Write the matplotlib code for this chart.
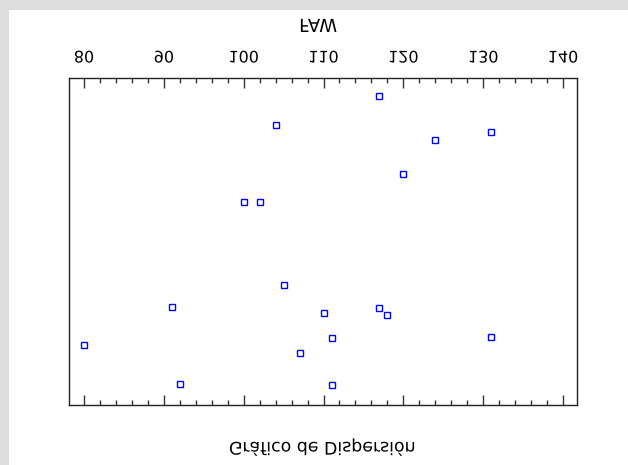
import matplotlib
matplotlib.use('Agg')
import matplotlib.pyplot as plt
from matplotlib.patches import Rectangle
from matplotlib.patheffects import AbstractPathEffect
from matplotlib.transforms import Affine2D

# the reference picture is mirrored top to bottom, so texts are drawn mirrored too
class FlipV(AbstractPathEffect):
    def draw_path(self, renderer, gc, tpath, affine, rgbFace=None):
        box = tpath.get_extents(affine)
        cy = (box.y0 + box.y1) / 2
        flip = Affine2D().translate(0, -cy).scale(1, -1).translate(0, cy)
        renderer.draw_path(gc, tpath, affine + flip, rgbFace)

faw = [104, 100, 102, 117, 131, 124, 120, 105, 91, 80, 107, 92, 110, 111, 117, 118, 111, 131]
yval = [47, 124, 124, 18, 54, 62, 96, 207, 229, 267, 275, 306, 235, 260, 230, 237, 307, 259]
xticks = [80, 90, 100, 110, 120, 130, 140]
title = 'Gráfico de Dispersión'
xlabel = 'FAW'

plt.rcParams['font.family'] = ['DejaVu Sans']

fig = plt.figure(figsize=(6.28, 4.65), dpi=100, facecolor='#dddddd')
fig.patches.append(Rectangle((9 / 628, 0), 1, 1 - 10 / 465, transform=fig.transFigure,
                             facecolor='white', edgecolor='none', zorder=-5))

ax = fig.add_axes([69 / 628, 1 - 405 / 465, 508 / 628, 327 / 465])
ax.plot(faw, yval, linestyle='none', marker='s', ms=4, mfc='white', mec='#0000ff', mew=1)

ax.set_xlim(78.12, 141.75)
ax.set_ylim(327, 0)
ax.set_yticks([])
ax.set_xticks(xticks)
ax.set_xticks(range(80, 142, 2), minor=True)
ax.tick_params(axis='x', which='both', direction='in', top=True, bottom=True,
               labeltop=True, labelbottom=False, color='#333333', width=1)
ax.tick_params(axis='x', which='major', length=7, labelsize=11.5, pad=9)
ax.tick_params(axis='x', which='minor', length=3.5)
for s in ax.spines.values():
    s.set_linewidth(1)
    s.set_color('#222222')
for t in ax.get_xticklabels():
    t.set_path_effects([FlipV()])

fig.text(318 / 628, 1 - 27 / 465, xlabel, ha='center', va='center', fontsize=13,
         path_effects=[FlipV()])
fig.text(323 / 628, 1 - 447 / 465, title, ha='center', va='center', fontsize=12.5,
         path_effects=[FlipV()])

fig.savefig('out.png', dpi=100, facecolor=fig.get_facecolor())
